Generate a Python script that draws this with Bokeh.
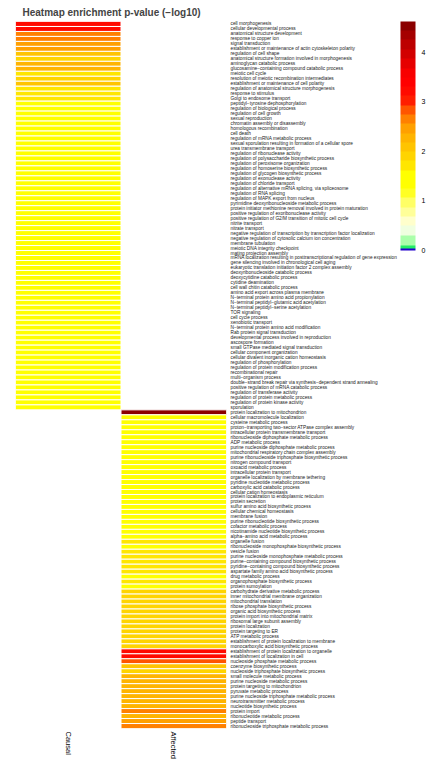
import math
from bokeh.plotting import figure
from bokeh.models import FactorRange, LinearColorMapper, ColorBar, FixedTicker, ColumnDataSource
from bokeh.embed import file_html
from bokeh.resources import INLINE

title_text = "Heatmap enrichment p-value (\u2212log10)"
columns = ["Causal", "Affected"]
colorbar_ticks = [0, 1, 2, 3, 4]
scale_max = 4.62

causal_terms = [
    "cell morphogenesis", "cellular developmental process", "anatomical structure development",
    "response to copper ion", "signal transduction",
    "establishment or maintenance of actin cytoskeleton polarity", "regulation of cell shape",
    "anatomical structure formation involved in morphogenesis", "aminoglycan catabolic process",
    "glucosamine\u2212containing compound catabolic process", "meiotic cell cycle",
    "resolution of meiotic recombination intermediates",
    "establishment or maintenance of cell polarity",
    "regulation of anatomical structure morphogenesis", "response to stimulus",
    "Golgi to endosome transport", "peptidyl\u2212tyrosine dephosphorylation",
    "regulation of biological process", "regulation of cell growth", "sexual reproduction",
    "chromatin assembly or disassembly", "homologous recombination", "cell death",
    "regulation of mRNA metabolic process",
    "sexual sporulation resulting in formation of a cellular spore",
    "urea transmembrane transport", "regulation of ribonuclease activity",
    "regulation of polysaccharide biosynthetic process", "regulation of peroxisome organization",
    "regulation of homoserine biosynthetic process", "regulation of glycogen biosynthetic process",
    "regulation of exonuclease activity", "regulation of chloride transport",
    "regulation of alternative mRNA splicing, via spliceosome", "regulation of RNA splicing",
    "regulation of MAPK export from nucleus", "pyrimidine deoxyribonucleoside metabolic process",
    "protein initiator methionine removal involved in protein maturation",
    "positive regulation of exoribonuclease activity",
    "positive regulation of G2/M transition of mitotic cell cycle", "nitrite transport",
    "nitrate transport",
    "negative regulation of transcription by transcription factor localization",
    "negative regulation of cytosolic calcium ion concentration", "membrane tubulation",
    "meiotic DNA integrity checkpoint", "mating projection assembly",
    "mRNA localization resulting in posttranscriptional regulation of gene expression",
    "gene silencing involved in chronological cell aging",
    "eukaryotic translation initiation factor 2 complex assembly",
    "deoxyribonucleoside catabolic process", "deoxycytidine catabolic process",
    "cytidine deamination", "cell wall chitin catabolic process",
    "amino acid export across plasma membrane",
    "N\u2212terminal protein amino acid propionylation",
    "N\u2212terminal peptidyl\u2212glutamic acid acetylation",
    "N\u2212terminal peptidyl\u2212serine acetylation", "TOR signaling", "cell cycle process",
    "xenobiotic transport", "N\u2212terminal protein amino acid modification",
    "Rab protein signal transduction", "developmental process involved in reproduction",
    "ascospore formation", "small GTPase mediated signal transduction",
    "cellular component organization", "cellular divalent inorganic cation homeostasis",
    "regulation of phosphorylation", "regulation of protein modification process",
    "recombinational repair", "multi\u2212organism process",
    "double\u2212strand break repair via synthesis\u2212dependent strand annealing",
    "positive regulation of mRNA catabolic process", "regulation of transferase activity",
    "regulation of protein metabolic process", "regulation of protein kinase activity",
    "sporulation",
]
causal_values = [
    3.3, 3.2, 2.6, 2.6, 2.5, 2.4, 2.1, 1.9, 2.2, 2.2,
    1.8, 1.9, 2.0, 1.8, 1.7, 1.7, 1.6, 1.6, 1.6, 1.6,
    1.55, 1.55, 1.55, 1.55, 1.5, 1.5, 1.5, 1.5, 1.5, 1.5,
    1.5, 1.5, 1.5, 1.5, 1.5, 1.5, 1.5, 1.5, 1.5, 1.5,
    1.5, 1.5, 1.5, 1.5, 1.5, 1.5, 1.5, 1.5, 1.5, 1.5,
    1.5, 1.5, 1.5, 1.5, 1.5, 1.5, 1.5, 1.5, 1.5, 1.5,
    1.5, 1.5, 1.5, 1.5, 1.5, 1.5, 1.5, 1.5, 1.5, 1.5,
    1.5, 1.5, 1.5, 1.5, 1.5, 1.5, 1.5, 1.5,
]

affected_terms = [
    "protein localization to mitochondrion", "cellular macromolecule localization",
    "cysteine metabolic process",
    "proton\u2212transporting two\u2212sector ATPase complex assembly",
    "intracellular protein transmembrane transport",
    "ribonucleoside diphosphate metabolic process", "ADP metabolic process",
    "purine nucleoside diphosphate metabolic process",
    "mitochondrial respiratory chain complex assembly",
    "purine ribonucleoside triphosphate biosynthetic process", "nitrogen compound transport",
    "oxoacid metabolic process", "intracellular protein transport",
    "organelle localization by membrane tethering", "pyridine nucleotide metabolic process",
    "carboxylic acid catabolic process", "cellular cation homeostasis",
    "protein localization to endoplasmic reticulum", "protein secretion",
    "sulfur amino acid biosynthetic process", "cellular chemical homeostasis",
    "membrane fusion", "purine ribonucleotide biosynthetic process",
    "cofactor metabolic process", "nicotinamide nucleotide biosynthetic process",
    "alpha\u2212amino acid metabolic process", "organelle fusion",
    "ribonucleoside monophosphate biosynthetic process", "vesicle fusion",
    "purine nucleoside monophosphate metabolic process",
    "purine\u2212containing compound biosynthetic process",
    "pyridine\u2212containing compound biosynthetic process",
    "aspartate family amino acid biosynthetic process", "drug metabolic process",
    "organophosphate biosynthetic process", "protein sumoylation",
    "carbohydrate derivative metabolic process", "inner mitochondrial membrane organization",
    "mitochondrial translation", "ribose phosphate biosynthetic process",
    "organic acid biosynthetic process", "protein import into mitochondrial matrix",
    "ribosomal large subunit assembly", "protein localization", "protein targeting to ER",
    "ATP metabolic process", "establishment of protein localization to membrane",
    "monocarboxylic acid biosynthetic process",
    "establishment of protein localization to organelle",
    "establishment of localization in cell", "nucleoside phosphate metabolic process",
    "coenzyme biosynthetic process", "nucleoside triphosphate biosynthetic process",
    "small molecule metabolic process", "purine nucleoside metabolic process",
    "protein targeting to mitochondrion", "pyruvate metabolic process",
    "purine nucleoside triphosphate metabolic process", "neurotransmitter metabolic process",
    "nucleotide biosynthetic process", "protein import", "ribonucleotide metabolic process",
    "peptide transport", "ribonucleoside triphosphate metabolic process",
]
affected_values = [
    4.6, 1.5, 1.5, 1.5, 1.5, 1.5, 1.5, 1.5, 1.5, 1.5,
    1.5, 1.5, 1.5, 1.5, 1.5, 1.5, 1.5, 1.5, 1.5, 1.5,
    1.5, 1.5, 1.5, 1.5, 1.5, 1.5, 1.7, 1.5, 1.7, 1.7,
    1.7, 1.7, 1.7, 1.6, 1.7, 1.5, 1.9, 1.9, 1.9, 1.9,
    1.9, 1.9, 1.9, 1.9, 1.9, 1.9, 1.9, 1.9, 3.3, 3.3,
    2.85, 2.05, 1.9, 2.25, 2.25, 2.25, 2.25, 2.25, 2.25, 2.25,
    2.65, 2.3, 2.55, 2.65,
]

# ---- stepped colour scale (style), bands read top -> bottom ----
band_colors_top_down = [
    "#8b0000", "#a50000", "#bd0000", "#d20000", "#e60000", "#f80000", "#ff0000",
    "#ff0a00", "#ff1e00", "#ff5500", "#ff8000", "#ffa000", "#ffb400", "#ffc400",
    "#ffd400", "#ffe600", "#ffff00", "#ffff00", "#ffff24", "#ffff66", "#ffff99",
    "#ffffcc", "#f0ffe0", "#aaffaa", "#22ee66", "#2200cc",
]
band_step = 0.1875
steps = 462
palette = []
for i in range(steps):
    v = scale_max * (i + 0.5) / steps
    if v < 0.05:
        c = band_colors_top_down[-1]
    elif v < 0.11:
        c = band_colors_top_down[-2]
    else:
        k = int((scale_max - v) / band_step)
        k = min(k, len(band_colors_top_down) - 3)
        c = band_colors_top_down[k]
    palette.append(c)

mapper = LinearColorMapper(palette=palette, low=0, high=scale_max)

all_terms = causal_terms + affected_terms
src = ColumnDataSource(dict(
    x=[columns[0]] * len(causal_terms) + [columns[1]] * len(affected_terms),
    y=all_terms,
    v=causal_values + affected_values,
))

p = figure(
    x_range=FactorRange(*columns), y_range=FactorRange(*all_terms[::-1]),
    frame_width=211, frame_height=707,
    min_border_left=15, min_border_top=21, min_border_bottom=41, min_border_right=0,
    toolbar_location=None, output_backend="svg",
    x_axis_location="below", y_axis_location="right",
    title=title_text,
)
p.rect(x="x", y="y", width=1, height=1, source=src,
       fill_color={"field": "v", "transform": mapper},
       line_color="white", line_width=1)

p.title.text_font = "Liberation Sans"
p.title.text_font_size = "10px"
p.title.text_font_style = "bold"
p.title.offset = 7
p.title.standoff = 7

p.grid.visible = False
p.outline_line_color = None

ya = p.yaxis[0]
ya.axis_line_color = None
ya.major_tick_line_color = None
ya.minor_tick_line_color = None
ya.major_tick_out = 0
ya.major_label_standoff = 4
ya.major_label_text_font = "Liberation Sans"
ya.major_label_text_font_size = "4.75px"
ya.major_label_text_color = "#222222"

xa = p.xaxis[0]
xa.axis_line_color = None
xa.major_tick_line_color = None
xa.major_tick_out = 0
xa.major_label_standoff = 3
xa.major_label_orientation = -math.pi / 2
xa.major_label_text_font = "Liberation Sans"
xa.major_label_text_font_size = "7.5px"
xa.major_label_text_color = "#000000"

cb = ColorBar(
    color_mapper=mapper, ticker=FixedTicker(ticks=colorbar_ticks),
    width=15, height=229, location="top_left",
    padding=0, margin=12, bar_line_color=None,
    major_tick_line_color=None, minor_tick_line_color=None,
    label_standoff=6, major_label_text_font="Liberation Sans",
    major_label_text_font_size="7px", major_label_text_color="#000000",
    background_fill_color=None, border_line_color=None,
)
p.add_layout(cb, "right")

open("out.html", "w").write(file_html(p, INLINE))
